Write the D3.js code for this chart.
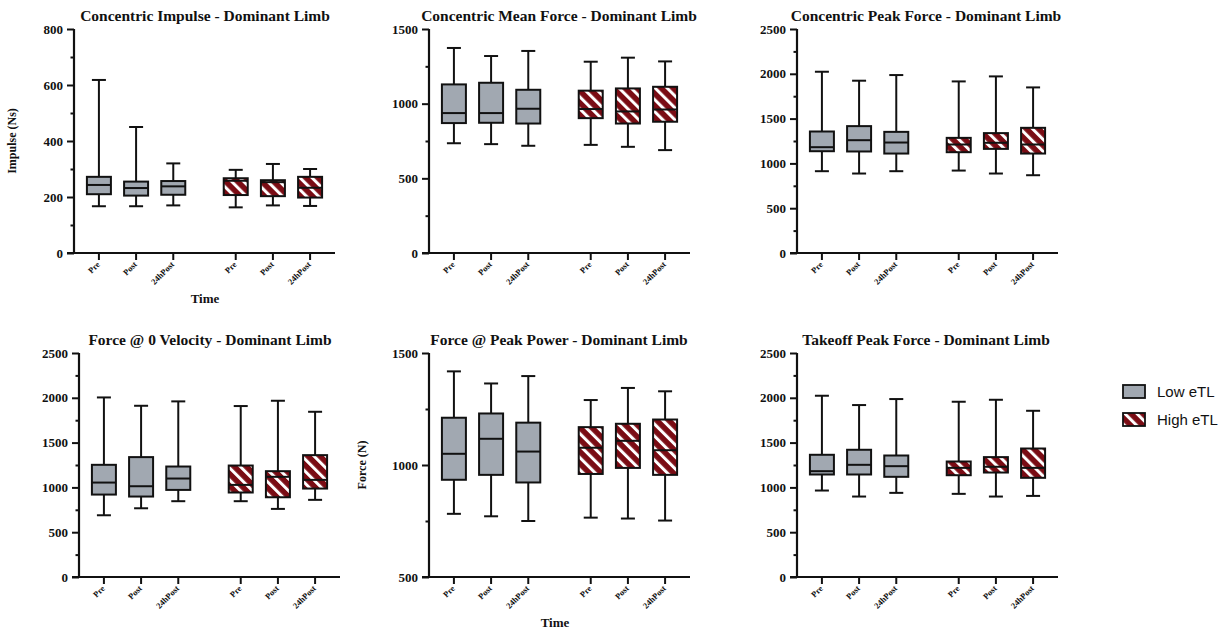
<!DOCTYPE html>
<html><head><meta charset="utf-8">
<script src="https://cdn.jsdelivr.net/npm/d3@7"></script>
<style>body{margin:0;background:#fff}svg{display:block}</style>
</head><body><svg id="c" width="1230" height="630"></svg>
<script>
// ---- data ----
const timepoints = ["Pre", "Post", "24hPost"];
const groups = ["Low eTL", "High eTL"];
const titles = [
  "Concentric Impulse - Dominant Limb",
  "Concentric Mean Force - Dominant Limb",
  "Concentric Peak Force - Dominant Limb",
  "Force @ 0 Velocity - Dominant Limb",
  "Force @ Peak Power - Dominant Limb",
  "Takeoff Peak Force - Dominant Limb"
];
const yLabels = ["Impulse (Ns)", "", "", "", "Force (N)", ""];
const xLabels = ["Time", "", "", "", "Time", ""];
const yDomains = [[0, 800], [0, 1500], [0, 2500], [0, 2500], [500, 1500], [0, 2500]];
const yMajorTicks = [
  [0, 200, 400, 600, 800],
  [0, 500, 1000, 1500],
  [0, 500, 1000, 1500, 2000, 2500],
  [0, 500, 1000, 1500, 2000, 2500],
  [500, 1000, 1500],
  [0, 500, 1000, 1500, 2000, 2500]
];
const yMinorTicks = [
  [100, 300, 500, 700],
  [250, 750, 1250],
  [250, 750, 1250, 1750, 2250],
  [250, 750, 1250, 1750, 2250],
  [750, 1250],
  [250, 750, 1250, 1750, 2250]
];
// each box: [min, q1, median, q3, max]
const impulseLow  = [[167, 210, 243, 272, 618], [167, 205, 232, 255, 450], [170, 208, 238, 257, 320]];
const impulseHigh = [[163, 207, 258, 267, 297], [170, 203, 253, 260, 318], [168, 198, 233, 272, 300]];
const meanForceLow  = [[735, 870, 937, 1129, 1373], [729, 872, 937, 1140, 1319], [718, 867, 966, 1093, 1353]];
const meanForceHigh = [[724, 903, 964, 1087, 1281], [711, 867, 948, 1102, 1308], [689, 879, 961, 1113, 1283]];
const peakForceLow  = [[913, 1136, 1181, 1356, 2023], [887, 1133, 1259, 1416, 1923], [913, 1110, 1233, 1352, 1986]];
const peakForceHigh = [[920, 1125, 1211, 1285, 1915], [887, 1162, 1230, 1338, 1971], [868, 1110, 1211, 1397, 1848]];
const zeroVelLow  = [[689, 920, 1054, 1252, 2004], [767, 898, 1013, 1338, 1911], [846, 972, 1099, 1233, 1960]];
const zeroVelHigh = [[846, 943, 1028, 1244, 1908], [760, 890, 1118, 1181, 1967], [861, 987, 1084, 1360, 1844]];
const peakPowerLow  = [[782, 934, 1050, 1211, 1418], [771, 956, 1117, 1230, 1364], [750, 922, 1060, 1189, 1397]];
const peakPowerHigh = [[765, 960, 1077, 1169, 1290], [761, 987, 1108, 1184, 1344], [752, 956, 1066, 1203, 1329]];
const takeoffLow  = [[965, 1144, 1181, 1364, 2023], [898, 1144, 1252, 1420, 1919], [939, 1118, 1237, 1356, 1986]];
const takeoffHigh = [[928, 1136, 1218, 1289, 1956], [898, 1166, 1230, 1338, 1978], [905, 1107, 1218, 1434, 1855]];
const panelLow  = [impulseLow, meanForceLow, peakForceLow, zeroVelLow, peakPowerLow, takeoffLow];
const panelHigh = [impulseHigh, meanForceHigh, peakForceHigh, zeroVelHigh, peakPowerHigh, takeoffHigh];

// ---- layout ----
const GRAY = "#a1a8b1", RED = "#7a0c14", INK = "#111";
const serif = "'Liberation Serif', 'Times New Roman', serif";
const panelLeft = [74, 429, 797, 79, 429, 797];
const panelTop = [29, 29, 29, 353, 353, 353];
const titleX = [205, 559, 926, 210, 559, 926];
const panelH = 224, panelW = 261;
const GROUP_GAP = 0.68;

const svg = d3.select("#c");
const defs = svg.append("defs");
const pat = defs.append("pattern").attr("id", "stripes")
  .attr("patternUnits", "userSpaceOnUse").attr("width", 8.5).attr("height", 8.5)
  .attr("patternTransform", "rotate(-45)");
pat.append("rect").attr("width", 8.5).attr("height", 8.5).attr("fill", RED);
pat.append("rect").attr("width", 3).attr("height", 8.5).attr("fill", "#fff");

panelLeft.forEach((L, p) => {
  const T = panelTop[p], B = T + panelH;
  const g = svg.append("g");
  const y = d3.scaleLinear().domain(yDomains[p]).range([B, T]);
  const x = d3.scaleLinear().domain([-0.67, 2 + 1 + GROUP_GAP + 2 + 0.67]).range([L, L + panelW]);
  const pos = (gi, ti) => x(gi * (3 + GROUP_GAP) + ti);

  // title
  g.append("text").attr("x", titleX[p]).attr("y", T - 8)
    .attr("text-anchor", "middle").attr("font-family", serif).attr("font-weight", "bold")
    .attr("font-size", 15.5).attr("fill", INK).text(titles[p]);

  // y axis
  const yAx = g.append("g").attr("transform", `translate(${L},0)`)
    .call(d3.axisLeft(y).tickValues(yMajorTicks[p]).tickSize(7).tickPadding(4).tickFormat(d3.format("d")));
  yAx.select(".domain").remove();
  yAx.selectAll("line").attr("stroke", INK).attr("stroke-width", 2);
  yAx.selectAll("text").attr("font-family", serif).attr("font-weight", "bold").attr("font-size", 13).attr("fill", INK);
  g.append("g").attr("transform", `translate(${L},0)`)
    .call(d3.axisLeft(y).tickValues(yMinorTicks[p]).tickSize(3.5).tickFormat(""))
    .call(s => s.select(".domain").remove())
    .selectAll("line").attr("stroke", INK).attr("stroke-width", 2);
  g.append("line").attr("x1", L).attr("x2", L).attr("y1", T).attr("y2", B)
    .attr("stroke", INK).attr("stroke-width", 2.2);
  g.append("line").attr("x1", L - 7).attr("x2", L + panelW).attr("y1", B).attr("y2", B)
    .attr("stroke", INK).attr("stroke-width", 2.2);

  // x ticks and labels
  groups.forEach((grp, gi) => {
    timepoints.forEach((tp, ti) => {
      const px = pos(gi, ti);
      g.append("line").attr("x1", px).attr("x2", px).attr("y1", B).attr("y2", B + 7)
        .attr("stroke", INK).attr("stroke-width", 2);
      g.append("text").attr("transform", `translate(${px + 1.5},${B + 12}) rotate(-45)`)
        .attr("text-anchor", "end").attr("font-family", serif).attr("font-weight", "bold")
        .attr("font-size", 8.5).attr("fill", INK).text(tp);
    });
  });

  // boxes
  const bw = 24, cw = 14;
  [panelLow[p], panelHigh[p]].forEach((data, gi) => {
    data.forEach((d, ti) => {
      const px = pos(gi, ti);
      const [mn, q1, md, q3, mx] = d;
      const bg = g.append("g");
      bg.append("line").attr("x1", px).attr("x2", px).attr("y1", y(mx)).attr("y2", y(q3))
        .attr("stroke", INK).attr("stroke-width", 2);
      bg.append("line").attr("x1", px).attr("x2", px).attr("y1", y(q1)).attr("y2", y(mn))
        .attr("stroke", INK).attr("stroke-width", 2);
      bg.append("line").attr("x1", px - cw / 2).attr("x2", px + cw / 2).attr("y1", y(mx)).attr("y2", y(mx))
        .attr("stroke", INK).attr("stroke-width", 2);
      bg.append("line").attr("x1", px - cw / 2).attr("x2", px + cw / 2).attr("y1", y(mn)).attr("y2", y(mn))
        .attr("stroke", INK).attr("stroke-width", 2);
      bg.append("rect").attr("x", px - bw / 2).attr("y", y(q3)).attr("width", bw).attr("height", y(q1) - y(q3))
        .attr("fill", gi === 0 ? GRAY : "url(#stripes)").attr("stroke", INK).attr("stroke-width", 2);
      bg.append("line").attr("x1", px - bw / 2).attr("x2", px + bw / 2).attr("y1", y(md)).attr("y2", y(md))
        .attr("stroke", INK).attr("stroke-width", 2);
    });
  });

  if (yLabels[p]) {
    const lx = p === 0 ? 16 : 366;
    g.append("text").attr("transform", `translate(${lx},${(T + B) / 2}) rotate(-90)`)
      .attr("text-anchor", "middle").attr("font-family", serif).attr("font-weight", "bold")
      .attr("font-size", 12).attr("fill", INK).text(yLabels[p]);
  }
  if (xLabels[p]) {
    g.append("text").attr("x", p === 0 ? 205 : 555).attr("y", B + 50)
      .attr("text-anchor", "middle").attr("font-family", serif).attr("font-weight", "bold")
      .attr("font-size", 13).attr("fill", INK).text(xLabels[p]);
  }
});

// legend
const leg = svg.append("g");
groups.forEach((grp, i) => {
  const ly = 385 + i * 28;
  leg.append("rect").attr("x", 1123).attr("y", ly).attr("width", 22).attr("height", 13)
    .attr("fill", i === 0 ? GRAY : "url(#stripes)").attr("stroke", INK).attr("stroke-width", 1.8);
  leg.append("text").attr("x", 1157).attr("y", ly + 12).attr("font-family", "'Liberation Sans', Arial, sans-serif")
    .attr("font-size", 15).attr("fill", INK).text(grp);
});
</script></body></html>
